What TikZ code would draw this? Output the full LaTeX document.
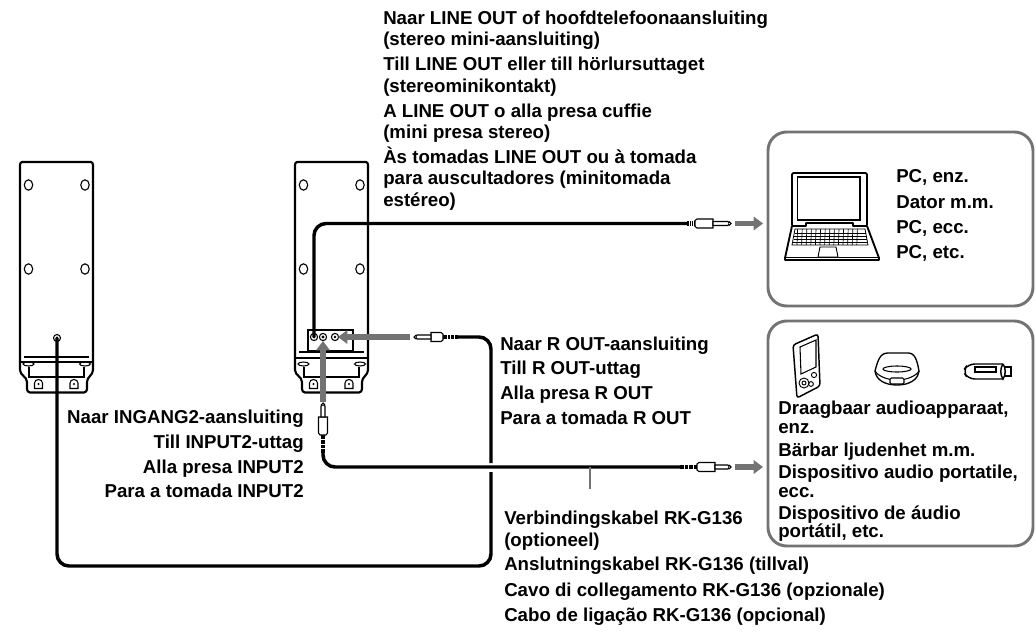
\documentclass[tikz,border=0pt]{standalone}
\usepackage{fontspec}
\setmainfont{Liberation Sans}
\usetikzlibrary{arrows.meta}
\definecolor{arrowgray}{gray}{0.45}
\tikzset{
 x=0.75pt,y=-0.75pt,
 txt/.style={font=\bfseries\fontsize{14pt}{17pt}\selectfont,anchor=base west,inner sep=0pt},
 txtr/.style={txt,anchor=base east},
 spk/.style={line width=1.6pt,black,line join=round},
 thin1/.style={line width=0.8pt,black},
 cable/.style={line width=2.6pt,black,rounded corners=9pt},
 garrow/.style={line width=4.4pt,color=arrowgray,-{Triangle[length=7pt,width=10pt]}},
 panel/.style={line width=2.2pt,draw=arrowgray,rounded corners=14pt},
 plugb/.style={line width=0.8pt,draw=black,fill=white},
}
% x offset, upper line y, lower line y
\newcommand{\speaker}[3]{%
 \begin{scope}[shift={(#1,0)}]
 \draw[spk] (22,162) -- (91,162) to[out=0,in=90] (93,165) -- (93,370) to[out=-90,in=90] (87,382) -- (87,389) to[out=-90,in=0] (84,392.5) -- (30,392.5) to[out=180,in=-90] (27,389) -- (27,382) to[out=90,in=-90] (20,370) -- (20,165) to[out=90,in=180] (22,162) -- cycle;
 \foreach \p/\q in {28.5/185,85/185,28.5/269,85/269}{\draw[thin1] (\p,\q) ellipse (4.2 and 5.2);}
 \draw[thin1] (24,#2) -- (89,#2);
 \draw[thin1] (20,#3) -- (93,#3);
 \draw[thin1] (28.5,364) ellipse (5.5 and 2);
 \draw[thin1] (85,364) ellipse (5.5 and 2);
 \draw[thin1] (29,366.5) -- (29,377) -- (84,377) -- (84,366.5);
 \foreach \p in {38.5,74}{\draw[thin1] (\p-4,388.5) -- (\p-4,383) to[out=90,in=180] (\p,379.5) to[out=0,in=90] (\p+4,383) -- (\p+4,388.5) -- cycle; \fill (\p,384) circle (1.2);}
 \end{scope}}
% origin, rotation, strain, body, tip lengths
\newcommand{\plug}[5]{\begin{scope}[shift={(#1)},rotate=#2]
 \fill[black] (0,-2.4) rectangle (#3,2.4);
 \foreach \k in {1,2,3}{\draw[white,line width=0.3pt] (#3*\k/4,-2.4) -- (#3*\k/4,2.4);}
 \draw[plugb] (#3,-3) -- (#3+2,-4.5) -- (#3+#4,-4.5) -- (#3+#4,4.5) -- (#3+2,4.5) -- (#3,3) -- cycle;
 \draw[line width=0.8pt,fill=white] (#3+#4,-2) -- (#3+#4+#5-3,-2) -- (#3+#4+#5-2.4,-0.9) -- (#3+#4+#5-1.6,-1.6) -- (#3+#4+#5,0) -- (#3+#4+#5-1.6,1.6) -- (#3+#4+#5-2.4,0.9) -- (#3+#4+#5-3,2) -- (#3+#4,2) -- cycle;
 \end{scope}}
\begin{document}
\begin{tikzpicture}
\useasboundingbox (0,0) rectangle (1036,632);
\speaker{0}{357}{362}
\speaker{275}{352}{358}
\draw[thin1,fill=white] (308,330) rectangle (353,351);
\coordinate (j0) at (57,338);
\coordinate (j1) at (314,337);
\coordinate (j2) at (323,337);
\coordinate (j3) at (335,337);
\draw[thin1] (j1) circle (3.6); \draw[thin1] (j2) circle (3.6); \draw[thin1] (j3) circle (3.6);
\draw[thin1] (j0) circle (3.5);
\fill (j0) circle (1.6); \fill (j1) circle (1.6); \fill (j2) circle (1.6);
\fill (j3) circle (1.3);
% cables
\coordinate (pa) at (687,223.5);
\coordinate (pb) at (458,337);
\coordinate (pc) at (323,453);
\coordinate (pd) at (680,467);
\coordinate (gapa) at (491,463);
\coordinate (gapb) at (491,472);
\coordinate (lead) at (590,489);
\coordinate (leadt) at (590,467);
\draw[cable] (j1) -- (314,223.5) -- (pa);
\draw[cable] (pb) -- (491,337) -- (gapa);
\draw[cable] (gapb) -- (491,566) -- (57,566) -- (j0);
\draw[cable] (pc) -- (323,467) -- (pd);
\draw[line width=1.2pt,black!55] (leadt) -- (lead);
\plug{pa}{0}{8}{18}{18}
\plug{pb}{180}{15}{12}{17}
\plug{pc}{90}{18}{18}{14}
\plug{pd}{0}{17}{18}{16}
% gray arrows
\coordinate (a1s) at (735,223.5); \coordinate (a1e) at (763,223.5);
\coordinate (a2s) at (735,467); \coordinate (a2e) at (763,467);
\coordinate (a3s) at (410,337); \coordinate (a3e) at (338,337);
\coordinate (a4s) at (323,402); \coordinate (a4e) at (323,341);
\draw[garrow] (a1s) -- (a1e);
\draw[garrow] (a2s) -- (a2e);
\draw[garrow] (a3s) -- (a3e);
\draw[garrow] (a4s) -- (a4e);
% panels
\draw[panel] (768,132) rectangle (1033,306);
\draw[panel] (768,321) rectangle (1033,546);
% laptop
\draw[line width=1.4pt,rounded corners=1pt] (792,225) -- (792,173) -- (867,173) -- (867,225);
\draw[line width=0.8pt] (797.5,177) rectangle (860,220);
\draw[line width=1.4pt,line join=round] (792,226) -- (785,258) -- (785,260) -- (879,260) -- (879,258) -- (867,226) -- (853,226) -- (853,223) -- (806,223) -- (806,226) -- cycle;
\draw[line width=0.6pt] (785,257) -- (879,257);
\draw[line width=0.6pt] (795,229) -- (865,229) -- (868,245) -- (792,245) -- cycle;
\foreach \k in {0,1,2,3}{\draw[line width=0.5pt] (794.5-\k*0.5,233+\k*3) -- (866+\k*0.5,233+\k*3);}
\foreach \k in {1,...,14}{\draw[line width=0.5pt] (795+\k*4.6-2,229) -- (795+\k*4.6-2.6,245);}
\draw[line width=0.7pt] (820,247) -- (836,247) -- (838,257) -- (818,257) -- cycle;
% mp3 player
\draw[line width=1.1pt,rounded corners=2pt] (793,345) -- (818,334) -- (820,386) -- (797,398) -- cycle;
\draw[line width=0.8pt] (800,347) -- (816,340) -- (816,367) -- (801,374) -- cycle;
\draw[line width=0.7pt] (804,383) circle (5); \draw[line width=0.7pt] (804,383) circle (2);
\draw[line width=0.7pt] (814,375) circle (2.6); \draw[line width=0.7pt] (811,384) circle (2.4);
% disc player
\draw[line width=1pt] (875,371) .. controls (878,360) and (880,353) .. (888,353) -- (908,353) .. controls (915,353) and (917,360) .. (919,371);
\draw[line width=1pt] (875,371) .. controls (876,380) and (885,385) .. (897,385) .. controls (909,385) and (918,380) .. (919,371);
\draw[line width=0.8pt] (875,371) .. controls (878,376) and (887,380) .. (897,380) .. controls (907,380) and (916,376) .. (919,371);
\draw[line width=0.8pt] (897,369) ellipse (14 and 3);
\draw[line width=0.8pt,fill=white,rounded corners=1pt] (890,378) rectangle (904,384);
% usb
\draw[line width=1.1pt,rounded corners=5pt] (1003,364) -- (968,364) -- (963,371) -- (968,379) -- (1003,379);
\draw[line width=0.8pt] (975,367) rectangle (996,372);
\draw[line width=1.1pt] (1003,364) .. controls (1000,368) and (1000,375) .. (1003,379) .. controls (1006,375) and (1006,368) .. (1003,364);
\draw[line width=1pt] (1004,367) -- (1011,367) -- (1011,376) -- (1004,376);
% texts
\node[txt] (t1) at (383,24) {Naar LINE OUT of hoofdtelefoonaansluiting};
\node[txt] (t1b) at (383,45) {(stereo mini-aansluiting)};
\node[txt] (t2) at (383,70) {Till LINE OUT eller till hörlursuttaget};
\node[txt] (t2b) at (383,92) {(stereominikontakt)};
\node[txt] (t3) at (383,117) {A LINE OUT o alla presa cuffie};
\node[txt] (t3b) at (383,138) {(mini presa stereo)};
\node[txt] (t4) at (383,163) {Às tomadas LINE OUT ou à tomada};
\node[txt] (t4b) at (383,184) {para auscultadores (minitomada};
\node[txt] (t4c) at (383,206) {estéreo)};
\node[txt] (t5) at (896,182) {PC, enz.};
\node[txt] (t6) at (896,208) {Dator m.m.};
\node[txt] (t7) at (896,233) {PC, ecc.};
\node[txt] (t8) at (896,258) {PC, etc.};
\node[txt] (t9) at (500,350) {Naar R OUT-aansluiting};
\node[txt] (t10) at (500,374) {Till R OUT-uttag};
\node[txt] (t11) at (500,399) {Alla presa R OUT};
\node[txt] (t12) at (500,424) {Para a tomada R OUT};
\node[txtr] (t13) at (304,423) {Naar INGANG2-aansluiting};
\node[txtr] (t14) at (304,448) {Till INPUT2-uttag};
\node[txtr] (t15) at (304,473) {Alla presa INPUT2};
\node[txtr] (t16) at (304,497) {Para a tomada INPUT2};
\node[txt] (t17) at (504,524) {Verbindingskabel RK-G136};
\node[txt] (t17b) at (504,546) {(optioneel)};
\node[txt] (t18) at (504,570) {Anslutningskabel RK-G136 (tillval)};
\node[txt] (t19) at (504,596) {Cavo di collegamento RK-G136 (opzionale)};
\node[txt] (t20) at (504,621) {Cabo de ligação RK-G136 (opcional)};
\node[txt] (t21) at (778,414) {Draagbaar audioapparaat,};
\node[txt] (t21b) at (778,433) {enz.};
\node[txt] (t22) at (778,456) {Bärbar ljudenhet m.m.};
\node[txt] (t23) at (778,478) {Dispositivo audio portatile,};
\node[txt] (t23b) at (778,497) {ecc.};
\node[txt] (t24) at (778,519) {Dispositivo de áudio};
\node[txt] (t24b) at (778,537) {portátil, etc.};
\end{tikzpicture}
\end{document}
